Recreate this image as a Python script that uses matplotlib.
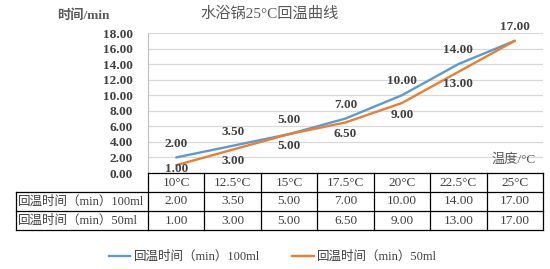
import matplotlib.pyplot as plt
from matplotlib.lines import Line2D

# 数据
temps = ['10°C', '12.5°C', '15°C', '17.5°C', '20°C', '22.5°C', '25°C']
t_100ml = [2.00, 3.50, 5.00, 7.00, 10.00, 14.00, 17.00]
t_50ml = [1.00, 3.00, 5.00, 6.50, 9.00, 13.00, 17.00]
row_names = ['回温时间（min）100ml', '回温时间（min）50ml']
y_ticks = [0, 2, 4, 6, 8, 10, 12, 14, 16, 18]

FONT = ['Liberation Serif', 'Noto Sans CJK SC']
plt.rcParams['font.family'] = FONT
blue = '#5B9BD5'
orange = '#ED7D31'
txt = '#404040'
W, H = 550, 269

fig = plt.figure(figsize=(W / 100, H / 100), dpi=100)

# 绘图区 (像素位置换算)
L, R, T, B = 148, 543, 33, 173
ax = fig.add_axes([L / W, 1 - B / H, (R - L) / W, (B - T) / H])
x = list(range(len(temps)))
ax.plot(x, t_100ml, color=blue, lw=1.7, solid_capstyle='round')
ax.plot(x, t_50ml, color=orange, lw=1.7, solid_capstyle='round')
ax.set_xlim(-0.5, len(temps) - 0.5)
ax.set_ylim(0, 18)
ax.set_yticks(y_ticks)
ax.set_yticklabels([f'{v:.2f}' for v in y_ticks], fontsize=9.5, fontweight='bold', color=txt)
ax.set_xticks([])
ax.tick_params(axis='y', length=0, pad=11)
ax.grid(axis='y', color='#D9D9D9', lw=0.9)
for s in ['top', 'right', 'bottom']:
    ax.spines[s].set_visible(False)
ax.spines['left'].set_color('#BFBFBF')
ax.set_axisbelow(True)

# 数据标签: 100ml 在上, 50ml 在下
for i in x:
    ax.annotate(f'{t_100ml[i]:.2f}', (i, t_100ml[i]), xytext=(0, 10), textcoords='offset points',
                ha='center', va='center', fontsize=9.5, fontweight='bold', color=txt)
    if i == len(x) - 1:
        continue  # 最后一点重合
    off = -8.5 if t_50ml[i] > 1.5 else -2.5
    ax.annotate(f'{t_50ml[i]:.2f}', (i, t_50ml[i]), xytext=(0, off), textcoords='offset points',
                ha='center', va='center', fontsize=9.5, fontweight='bold', color=txt)

fig.text(270 / W, 1 - 14 / H, '水浴锅25°C回温曲线', ha='center', va='center', fontsize=11, color='#595959')
fig.text(57 / W, 1 - 16 / H, '时间/min', ha='left', va='center', fontsize=9.5, fontweight='bold', color='#595959')
fig.text(536 / W, 1 - 160 / H, '温度/°C', ha='right', va='center', fontsize=9.5, color='#595959')

# 数据表
tab = fig.add_axes([0, 0, 1, 1])
tab.set_xlim(0, W)
tab.set_ylim(H, 0)
tab.axis('off')
col_w = (R - L) / len(temps)
rows_y = [173, 192, 211, 230]
lk = dict(color='black', lw=0.9)
tab.plot([L, R], [rows_y[0], rows_y[0]], **lk)
for yy in rows_y[1:]:
    tab.plot([16, R], [yy, yy], **lk)
tab.plot([16, 16], [rows_y[1], rows_y[3]], **lk)
for j in range(len(temps) + 1):
    xx = L + j * col_w
    tab.plot([xx, xx], [rows_y[0], rows_y[3]], **lk)
for j, t in enumerate(temps):
    cx = L + (j + 0.5) * col_w
    tab.text(cx, (rows_y[0] + rows_y[1]) / 2, t, ha='center', va='center', fontsize=9.5, color=txt)
    tab.text(cx, (rows_y[1] + rows_y[2]) / 2, f'{t_100ml[j]:.2f}', ha='center', va='center', fontsize=9.5, color=txt)
    tab.text(cx, (rows_y[2] + rows_y[3]) / 2, f'{t_50ml[j]:.2f}', ha='center', va='center', fontsize=9.5, color=txt)
for k, name in enumerate(row_names):
    tab.text(18, (rows_y[k + 1] + rows_y[k + 2]) / 2, name, ha='left', va='center', fontsize=9, color=txt)

# 图例
handles = [Line2D([], [], color=blue, lw=1.7), Line2D([], [], color=orange, lw=1.7)]
fig.legend(handles, row_names, loc='center', bbox_to_anchor=(273 / W, 1 - 257 / H), ncol=2,
           frameon=False, fontsize=9, handlelength=1.7, handletextpad=0.3, columnspacing=2.6,
           labelcolor=txt)

fig.savefig('out.png', dpi=100)
